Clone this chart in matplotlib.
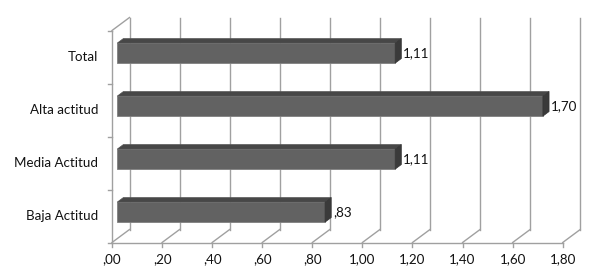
import matplotlib.pyplot as plt
from matplotlib.patches import Polygon

# data
categories = ["Baja Actitud", "Media Actitud", "Alta actitud", "Total"]
values = [0.83, 1.11, 1.70, 1.11]
value_labels = [",83", "1,11", "1,70", "1,11"]
xticks = [0.0, 0.2, 0.4, 0.6, 0.8, 1.0, 1.2, 1.4, 1.6, 1.8]
xtick_labels = [",00", ",20", ",40", ",60", ",80", "1,00", "1,20", "1,40", "1,60", "1,80"]

plt.rcParams['font.family'] = ['Lato', 'DejaVu Sans']

W, H = 589, 272
fig = plt.figure(figsize=(W / 100, H / 100), dpi=100)
ax = fig.add_axes([0, 0, 1, 1])
ax.axis('off')

# pixel scale of the front plane
sx = 250.4   # px per unit on x
sy = 53.0    # px per category
x0px = 112
ybot_px = 242.5
ax.set_xlim(-x0px / sx, (W - x0px) / sx)
ax.set_ylim(-0.5 - (H - ybot_px) / sy, -0.5 + ybot_px / sy)

# depth offset of the 3D box (back wall relative to front)
DX = 17.5 / sx
DY = 13.0 / sy
ytop = len(categories) - 0.5
ybot = -0.5
grid_c = '#a0a0a0'
lw = 1.0
fs = 9.6
txt_c = '#111111'

# back wall gridlines + floor lines
for t in xticks:
    ax.plot([t + DX, t + DX], [ybot + DY, ytop + DY], color=grid_c, lw=lw, zorder=1)
    ax.plot([t, t + DX], [ybot, ybot + DY], color=grid_c, lw=lw, zorder=1)
# left wall top edge
ax.plot([0, DX], [ytop, ytop + DY], color=grid_c, lw=lw, zorder=1)
# front axes
ax.plot([0, 0], [ybot, ytop], color=grid_c, lw=lw, zorder=1)
ax.plot([0, xticks[-1]], [ybot, ybot], color=grid_c, lw=lw, zorder=1)
for k in range(len(categories) + 1):
    ax.plot([-4 / sx, 0], [ybot + k, ybot + k], color=grid_c, lw=lw, zorder=1)
for t, lab in zip(xticks, xtick_labels):
    ax.plot([t, t], [ybot, ybot - 4 / sy], color=grid_c, lw=lw, zorder=1)
    ax.text(t, ybot - 16.5 / sy, lab, ha='center', va='center', fontsize=fs, color=txt_c)

# bars
f0, f1 = 0.3, 0.65
bh = 20.0 / sy
front_c, top_c, side_c = '#626262', '#474747', '#3a3a3a'
for i, (v, lab) in enumerate(zip(values, value_labels)):
    xa, ya = f0 * DX, i + f0 * DY
    xb, yb = f1 * DX, i + f1 * DY
    ax.barh(ya, v, left=xa, height=bh, color=front_c, edgecolor='#808080', lw=0.6, zorder=3)
    top = [(xa, ya + bh / 2), (xa + v, ya + bh / 2), (xb + v, yb + bh / 2), (xb, yb + bh / 2)]
    side = [(xa + v, ya - bh / 2), (xb + v, yb - bh / 2), (xb + v, yb + bh / 2), (xa + v, ya + bh / 2)]
    ax.add_patch(Polygon(top, closed=True, fc=top_c, ec='#555555', lw=0.5, zorder=3))
    ax.add_patch(Polygon(side, closed=True, fc=side_c, ec='#333333', lw=0.5, zorder=3))
    ax.text(xb + v + 2 / sx, ya, lab, ha='left', va='center', fontsize=fs, color=txt_c, zorder=4)

for i, c in enumerate(categories):
    ax.text(-14 / sx, i, c, ha='right', va='center', fontsize=fs, color=txt_c)

fig.savefig('out.png', dpi=100, facecolor='white')
